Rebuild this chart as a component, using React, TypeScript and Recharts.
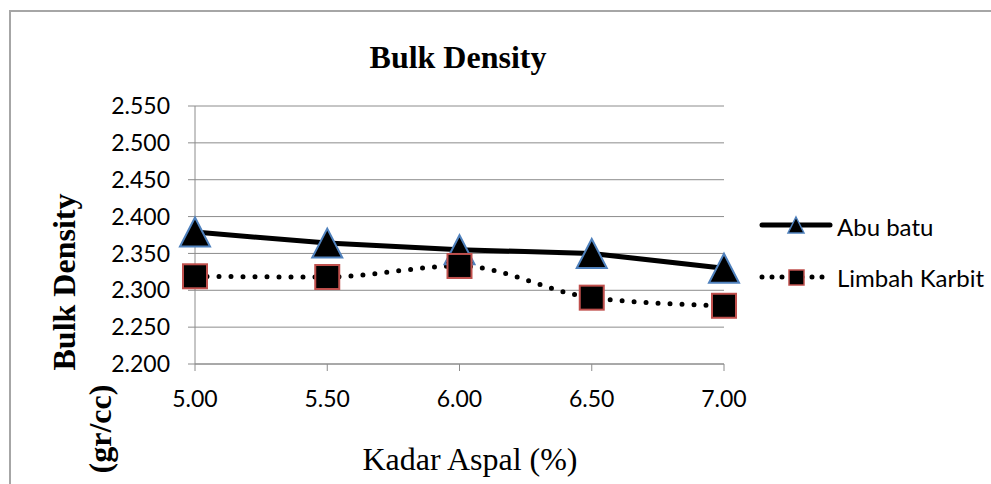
import React from 'react';
import { LineChart, Line, XAxis, YAxis, CartesianGrid } from 'recharts';

const kadarAspal = [5.0, 5.5, 6.0, 6.5, 7.0];
const abuBatu = [2.379, 2.364, 2.355, 2.350, 2.330];
const limbahKarbit = [2.319, 2.318, 2.333, 2.290, 2.279];
const xTicks = [5.0, 5.5, 6.0, 6.5, 7.0];
const yTicks = [2.2, 2.25, 2.3, 2.35, 2.4, 2.45, 2.5, 2.55];

const data = kadarAspal.map((x, i) => ({ x, abu: abuBatu[i], limbah: limbahKarbit[i] }));

const TICK_FONT = 'Lato, "Open Sans", sans-serif';
const SERIF = '"Liberation Serif", "Times New Roman", serif';

const Triangle = (props: any) => {
  const { cx, cy, key } = props;
  if (cx == null || cy == null) return <g key={key} />;
  const w = 30, h = 29;
  const pts = `${cx},${cy - h / 2} ${cx + w / 2},${cy + h / 2} ${cx - w / 2},${cy + h / 2}`;
  return <polygon key={key} points={pts} fill="#000" stroke="#4F81BD" strokeWidth={2} strokeLinejoin="miter" />;
};

const Square = (props: any) => {
  const { cx, cy, key } = props;
  if (cx == null || cy == null) return <g key={key} />;
  const s = 24;
  return <rect key={key} x={cx - s / 2} y={cy - s / 2} width={s} height={s} fill="#000" stroke="#C0504D" strokeWidth={2} />;
};

export default function App() {
  return (
    <div style={{ position: 'absolute', left: 0, top: 0, width: 991, height: 484, background: '#fff', overflow: 'hidden' }}>
      <div style={{ position: 'absolute', left: 9, top: 10, width: 982, height: 474, borderTop: '2px solid #a6a6a6', borderLeft: '2px solid #a6a6a6', boxSizing: 'border-box' }} />
      <div style={{ position: 'absolute', left: 0, top: 0 }}>
        <LineChart width={991} height={484} data={data} margin={{ top: 106, right: 267, bottom: 0, left: 0 }}>
          <CartesianGrid vertical={false} stroke="#8c8c8c" strokeWidth={1} />
          <XAxis
            dataKey="x"
            type="number"
            domain={[5, 7]}
            ticks={xTicks}
            tickFormatter={(v: number) => v.toFixed(2)}
            height={120}
            stroke="#8c8c8c"
            tickSize={7}
            tickMargin={20}
            tick={{ fill: '#000', fontSize: 23, fontFamily: TICK_FONT }}
            interval={0}
          />
          <YAxis
            type="number"
            domain={[2.2, 2.55]}
            ticks={yTicks}
            tickFormatter={(v: number) => v.toFixed(3)}
            width={195}
            stroke="#8c8c8c"
            tickSize={7}
            tickMargin={18}
            tick={{ fill: '#000', fontSize: 23, fontFamily: TICK_FONT }}
            interval={0}
          />
          <Line
            dataKey="abu"
            type="linear"
            stroke="#000"
            strokeWidth={5}
            dot={Triangle}
            activeDot={false}
            isAnimationActive={false}
          />
          <Line
            dataKey="limbah"
            type="monotone"
            stroke="#000"
            strokeWidth={5}
            strokeDasharray="0 12"
            strokeLinecap="round"
            dot={Square}
            activeDot={false}
            isAnimationActive={false}
          />
        </LineChart>
      </div>
      <svg width={991} height={484} style={{ position: 'absolute', left: 0, top: 0, pointerEvents: 'none' }}>
        <text x={458} y={57} textAnchor="middle" dominantBaseline="central" fontFamily={SERIF} fontWeight="bold" fontSize={32} fill="#000">Bulk Density</text>
        <text x={470} y={459} textAnchor="middle" dominantBaseline="central" fontFamily={SERIF} fontSize={32} fill="#000">Kadar Aspal (%)</text>
        <text transform="translate(64,282) rotate(-90)" textAnchor="middle" dominantBaseline="central" fontFamily={SERIF} fontWeight="bold" fontSize={32} fill="#000">Bulk Density</text>
        <text transform="translate(100,429) rotate(-90)" textAnchor="middle" dominantBaseline="central" fontFamily={SERIF} fontWeight="bold" fontSize={32} fill="#000">(gr/cc)</text>
        {/* legend */}
        <line x1={762} y1={225} x2={830} y2={225} stroke="#000" strokeWidth={5} strokeLinecap="round" />
        <polygon points="796,217 804,233 788,233" fill="#000" stroke="#4F81BD" strokeWidth={1.5} />
        <text x={837} y={226} dominantBaseline="central" fontFamily={TICK_FONT} fontSize={24} fill="#000">Abu batu</text>
        <line x1={762} y1={277} x2={830} y2={277} stroke="#000" strokeWidth={5} strokeDasharray="0 10" strokeLinecap="round" />
        <rect x={789} y={270} width={15} height={15} fill="#000" stroke="#C0504D" strokeWidth={1.5} />
        <text x={837} y={277} dominantBaseline="central" fontFamily={TICK_FONT} fontSize={24} fill="#000">Limbah Karbit</text>
      </svg>
    </div>
  );
}
